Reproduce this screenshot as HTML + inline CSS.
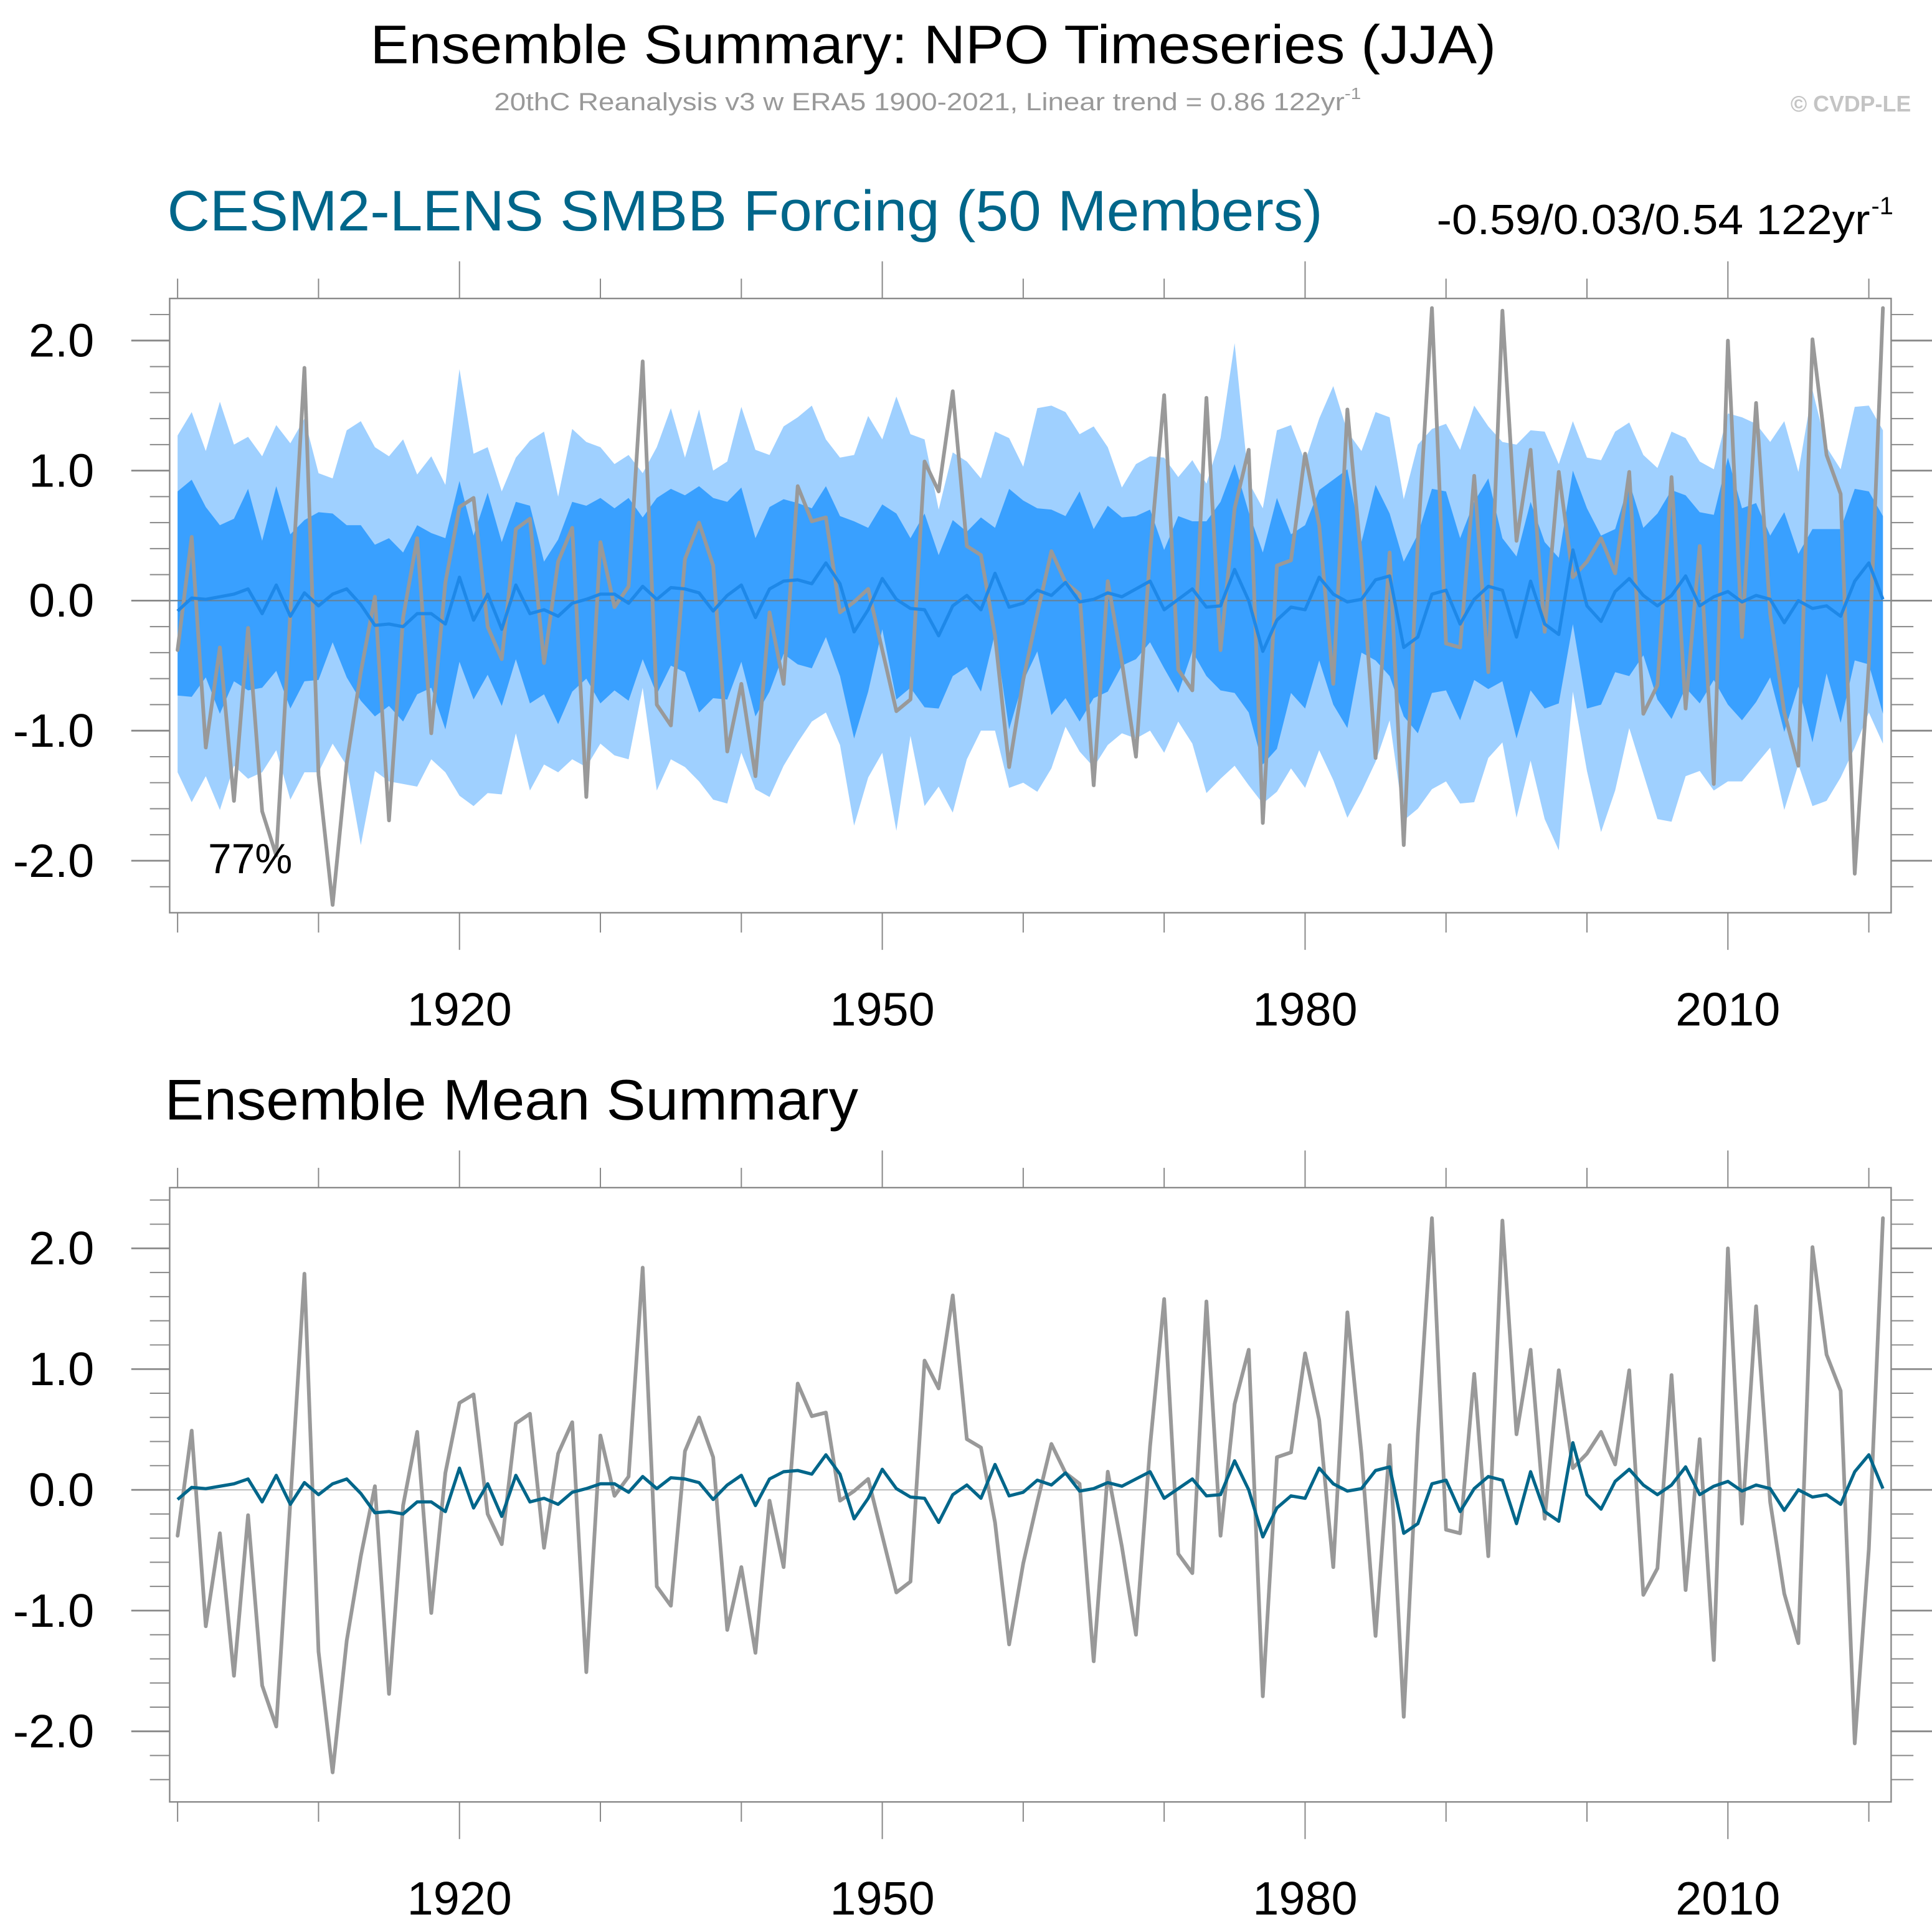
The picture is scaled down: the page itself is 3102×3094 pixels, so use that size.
<!DOCTYPE html>
<html><head><meta charset="utf-8">
<style>
html,body{margin:0;padding:0;background:#fff;}
svg{display:block;}
text{font-family:"Liberation Sans",sans-serif;}
</style></head>
<body>
<svg id="chart" width="3102" height="3094" viewBox="0 0 1560 1556" preserveAspectRatio="none" xmlns="http://www.w3.org/2000/svg">
<text x="299" y="51" font-size="44" textLength="909" lengthAdjust="spacingAndGlyphs">Ensemble Summary: NPO Timeseries (JJA)</text>
<text x="399" y="89" font-size="20" fill="#999" textLength="700" lengthAdjust="spacingAndGlyphs">20thC Reanalysis v3 w ERA5 1900-2021, Linear trend = 0.86 122yr<tspan dy="-9" font-size="13">-1</tspan></text>
<text x="1543" y="90" font-size="18" font-weight="bold" fill="#c4c4c4" text-anchor="end">© CVDP-LE</text>
<text x="135" y="186" font-size="46" fill="#00668a" textLength="933" lengthAdjust="spacingAndGlyphs">CESM2-LENS SMBB Forcing (50 Members)</text>
<text x="1160" y="189" font-size="34" textLength="350" lengthAdjust="spacingAndGlyphs">-0.59/0.03/0.54 122yr</text>
<text x="1511" y="173" font-size="20">-1</text>
<text x="133" y="904" font-size="46" textLength="560" lengthAdjust="spacingAndGlyphs">Ensemble Mean Summary</text>
<g id="top"></g>
<g id="bot"></g>
</svg>
<script>
const startYear = 1900;
const obsValues = [-0.38,0.49,-1.13,-0.36,-1.54,-0.21,-1.62,-1.96,-0.1,1.79,-1.34,-2.34,-1.25,-0.55,0.03,-1.69,-0.13,0.48,-1.02,0.14,0.72,0.79,-0.20,-0.45,0.55,0.63,-0.48,0.30,0.56,-1.51,0.45,-0.05,
0.11,1.84,-0.80,-0.96,0.32,0.60,0.27,-1.16,-0.64,-1.35,-0.09,-0.64,0.88,0.61,0.64,-0.09,-0.01,0.09,-0.38,-0.85,-0.76,1.07,0.84,1.61,0.42,0.35,-0.27,-1.28,-0.61,-0.10,
0.38,0.14,0.05,-1.42,0.15,-0.47,-1.20,0.36,1.58,-0.53,-0.69,1.56,-0.38,0.71,1.16,-1.71,0.27,0.31,1.13,0.58,-0.64,1.47,0.30,-1.21,0.37,-1.88,0.46,2.25,-0.33,-0.36,0.96,
-0.55,2.23,0.46,1.16,-0.24,0.99,0.18,0.30,0.48,0.21,0.99,-0.87,-0.65,0.95,-0.83,0.42,-1.41,2.0,-0.28,1.52,-0.10,-0.86,-1.27,2.01,1.12,0.82,-2.10,-0.49,2.25];
const ensMean = [-0.08,0.02,0.01,0.03,0.05,0.09,-0.10,0.12,-0.12,0.06,-0.04,0.05,0.09,-0.03,-0.19,-0.18,-0.20,-0.10,-0.10,-0.18,0.18,-0.15,0.05,-0.22,0.12,-0.10,-0.07,-0.12,-0.02,0.01,0.05,0.05,
-0.02,0.11,0.01,0.10,0.09,0.06,-0.08,0.04,0.12,-0.13,0.09,0.15,0.16,0.13,0.29,0.13,-0.24,-0.07,0.17,0.01,-0.06,-0.07,-0.27,-0.04,0.04,-0.07,0.21,-0.05,-0.02,0.08,
0.04,0.14,-0.01,0.01,0.06,0.03,0.09,0.15,-0.07,0.01,0.09,-0.05,-0.04,0.24,0.0,-0.39,-0.15,-0.05,-0.07,0.18,0.05,-0.01,0.01,0.16,0.19,-0.36,-0.28,0.05,0.08,-0.18,0.01,
0.11,0.08,-0.28,0.15,-0.18,-0.26,0.39,-0.04,-0.16,0.07,0.17,0.04,-0.04,0.04,0.19,-0.04,0.03,0.07,-0.01,0.04,0.01,-0.17,0.0,-0.06,-0.04,-0.12,0.15,0.29,0.01];
const outerUpper = [1.27,1.45,1.15,1.53,1.20,1.26,1.11,1.35,1.21,1.40,0.98,0.94,1.31,1.38,1.18,1.11,1.24,0.97,1.11,0.89,1.78,1.13,1.18,0.84,1.10,1.23,1.30,0.80,1.32,1.22,1.18,1.05,
1.12,0.98,1.18,1.48,1.10,1.47,1.00,1.07,1.49,1.16,1.12,1.34,1.41,1.50,1.24,1.10,1.12,1.42,1.24,1.57,1.28,1.24,0.70,1.14,1.07,0.94,1.30,1.25,1.03,1.48,
1.50,1.45,1.28,1.34,1.18,0.87,1.05,1.11,1.10,0.95,1.08,0.90,1.25,1.98,0.91,0.71,1.31,1.35,1.07,1.40,1.65,1.30,1.15,1.45,1.41,0.78,1.20,1.32,1.36,1.16,1.50,
1.34,1.22,1.20,1.31,1.30,1.05,1.38,1.10,1.08,1.30,1.37,1.12,1.02,1.30,1.25,1.07,1.01,1.44,1.41,1.36,1.22,1.38,0.99,1.62,1.18,1.01,1.49,1.50,1.31];
const innerUpper = [0.84,0.93,0.72,0.58,0.63,0.86,0.46,0.88,0.51,0.62,0.68,0.67,0.58,0.58,0.43,0.48,0.37,0.58,0.52,0.48,0.92,0.50,0.83,0.45,0.76,0.73,0.30,0.47,0.76,0.73,0.79,0.71,
0.79,0.64,0.79,0.86,0.81,0.88,0.79,0.76,0.87,0.48,0.72,0.78,0.75,0.71,0.88,0.65,0.61,0.56,0.74,0.67,0.48,0.67,0.35,0.62,0.53,0.64,0.56,0.86,0.77,0.71,
0.70,0.65,0.84,0.55,0.73,0.64,0.65,0.70,0.39,0.65,0.61,0.61,0.76,1.05,0.68,0.37,0.79,0.51,0.58,0.85,0.93,1.01,0.45,0.89,0.67,0.30,0.51,0.86,0.84,0.48,0.76,
0.94,0.48,0.34,0.76,0.45,0.33,1.00,0.71,0.50,0.55,0.91,0.56,0.67,0.85,0.81,0.68,0.66,1.10,0.71,0.75,0.50,0.68,0.36,0.55,0.55,0.55,0.86,0.84,0.65];
const innerLower = [-0.73,-0.74,-0.59,-0.87,-0.62,-0.69,-0.67,-0.54,-0.83,-0.62,-0.61,-0.32,-0.59,-0.77,-0.89,-0.81,-0.93,-0.72,-0.67,-0.99,-0.47,-0.76,-0.57,-0.81,-0.45,-0.79,-0.72,-0.95,-0.70,-0.60,-0.79,-0.69,
-0.77,-0.45,-0.72,-0.50,-0.55,-0.86,-0.75,-0.76,-0.47,-0.89,-0.70,-0.41,-0.49,-0.52,-0.28,-0.58,-1.06,-0.70,-0.22,-0.76,-0.67,-0.82,-0.83,-0.58,-0.51,-0.70,-0.25,-0.99,-0.62,-0.39,
-0.88,-0.75,-0.93,-0.75,-0.70,-0.50,-0.45,-0.32,-0.52,-0.71,-0.39,-0.58,-0.69,-0.71,-0.86,-1.26,-1.14,-0.71,-0.83,-0.46,-0.80,-0.98,-0.40,-0.46,-0.58,-0.89,-1.02,-0.71,-0.69,-0.92,-0.61,
-0.68,-0.62,-1.06,-0.69,-0.83,-0.79,-0.18,-0.83,-0.80,-0.55,-0.58,-0.42,-0.76,-0.91,-0.67,-0.79,-0.61,-0.80,-0.92,-0.78,-0.59,-1.01,-0.66,-1.09,-0.56,-0.94,-0.46,-0.49,-0.87];
const outerLower = [-1.32,-1.55,-1.35,-1.61,-1.27,-1.37,-1.32,-1.15,-1.53,-1.32,-1.32,-1.10,-1.27,-1.88,-1.31,-1.39,-1.41,-1.43,-1.22,-1.32,-1.50,-1.58,-1.48,-1.49,-1.02,-1.46,-1.26,-1.32,-1.22,-1.28,-1.10,-1.19,
-1.22,-0.67,-1.46,-1.22,-1.28,-1.39,-1.53,-1.56,-1.17,-1.45,-1.51,-1.27,-1.09,-0.93,-0.86,-1.11,-1.73,-1.36,-1.17,-1.77,-1.04,-1.58,-1.43,-1.63,-1.22,-1.00,-1.00,-1.44,-1.40,-1.47,
-1.29,-0.97,-1.16,-1.28,-1.11,-1.02,-1.06,-1.00,-1.17,-0.93,-1.10,-1.48,-1.37,-1.27,-1.42,-1.56,-1.47,-1.29,-1.44,-1.15,-1.38,-1.67,-1.47,-1.24,-0.92,-1.69,-1.60,-1.45,-1.39,-1.56,-1.55,
-1.21,-1.09,-1.67,-1.23,-1.68,-1.92,-0.70,-1.31,-1.78,-1.46,-0.98,-1.33,-1.68,-1.70,-1.35,-1.31,-1.46,-1.39,-1.39,-1.26,-1.13,-1.61,-1.26,-1.58,-1.54,-1.36,-1.13,-0.86,-1.10];
const xTickYears = [1920,1950,1980,2010];
const yTickValues = [2,1,0,-1,-2];
const yTickLabels = ["2.0","1.0","0.0","-1.0","-2.0"];
const percentLabel = "77%";

const NS = "http://www.w3.org/2000/svg";
const X0 = 143.4, DX = 11.38;
function xs(year){ return X0 + (year - 1900) * DX; }
function mk(parent, tag, attrs){ const e=document.createElementNS(NS,tag); for(const k in attrs) e.setAttribute(k,attrs[k]); parent.appendChild(e); return e; }

function panel(g, top, bottom, y0, unit, yMinor0, yMinor1, withBands, meanColor){
  const ys = v => y0 - v*unit;
  const L=137, R=1527;
  // zero line
  const zl = mk(g,'line',{x1:L,x2:R,y1:ys(0),y2:ys(0),stroke:withBands?'#777':'#bbb','stroke-width':withBands?1:1});
  
  
  if(withBands){
    const up = (arr)=>arr.map((v,i)=>xs(startYear+i)+','+ys(v)).join(' ');
    const rev = (arr)=>arr.map((v,i)=>xs(startYear+i)+','+ys(v)).reverse().join(' ');
    const ob = mk(g,'polygon',{points:up(outerUpper)+' '+rev(outerLower),fill:'#9fd0ff'});
    
    
    const ib = mk(g,'polygon',{points:up(innerUpper)+' '+rev(innerLower),fill:'#39a0ff'});
    
    
    const z2 = mk(g,'line',{x1:L,x2:R,y1:ys(0),y2:ys(0),stroke:'#6a7f90','stroke-width':1});
    
    
  }
  const pts = a => a.map((v,i)=>xs(startYear+i)+','+ys(v)).join(' ');
  const ol = mk(g,'polyline',{points:pts(obsValues),fill:'none',stroke:'#999','stroke-width':3,'stroke-linejoin':'round','stroke-linecap':'round'});
  
  
  const ml = mk(g,'polyline',{points:pts(ensMean),fill:'none',stroke:meanColor,'stroke-width':2.6,'stroke-linejoin':'round'});
  
  
  const fr = mk(g,'rect',{x:L,y:top,width:R-L,height:bottom-top,fill:'none',stroke:'#888','stroke-width':1.2});
  
  
  // y ticks
  for(let k=yMinor0;k<=yMinor1;k++){
    const v=k/5, y=ys(v), major=(k%5===0);
    const len = major?31:16;
    const t1 = mk(g,'line',{x1:L-len,x2:L,y1:y,y2:y,stroke:'#888','stroke-width':major?1.4:1});
    
    
    const t2 = mk(g,'line',{x1:R,x2:R+len+2,y1:y,y2:y,stroke:'#888','stroke-width':major?1.4:1});
    
    
  }
  yTickValues.forEach((v,i)=>{
    const t = mk(g,'text',{x:76,y:ys(v)+13,'font-size':38,'text-anchor':'end'});
    t.textContent = yTickLabels[i];
    
    
  });
  // x ticks
  for(let yr=1900; yr<=2020; yr+=10){
    const major = xTickYears.includes(yr);
    const len = major?30:16;
    const a = mk(g,'line',{x1:xs(yr),x2:xs(yr),y1:top-len,y2:top,stroke:'#888','stroke-width':1});
    
    
    const b = mk(g,'line',{x1:xs(yr),x2:xs(yr),y1:bottom,y2:bottom+len,stroke:'#888','stroke-width':1});
    
    
  }
  xTickYears.forEach(yr=>{
    const t = mk(g,'text',{x:xs(yr),y:bottom+91,'font-size':38,'text-anchor':'middle'});
    t.textContent = String(yr);
    
    
  });
}
panel(document.getElementById('top'), 241, 737, 485, 105, -11, 11, true, '#1e88e8');
panel(document.getElementById('bot'), 959, 1455, 1203, 97.5, -12, 12, false, '#00668a');
const pl = mk(document.getElementById('top'),'text',{x:168,y:705,'font-size':34});
pl.textContent = percentLabel;


</script>
</body></html>
